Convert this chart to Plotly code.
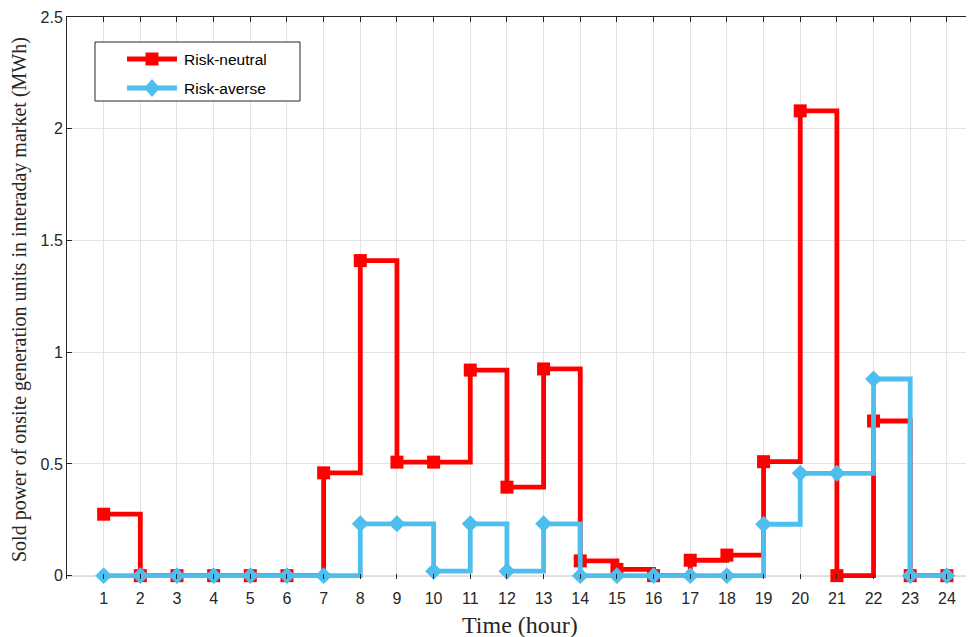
import plotly.graph_objects as go

hours = list(range(1, 25))
risk_neutral = [0.275, 0, 0, 0, 0, 0, 0.46, 1.41, 0.508, 0.508, 0.92, 0.396, 0.925, 0.066,
                0.028, 0, 0.069, 0.092, 0.51, 2.08, 0, 0.692, 0, 0]
risk_averse = [0, 0, 0, 0, 0, 0, 0, 0.232, 0.232, 0.02, 0.232, 0.02, 0.232, 0,
               0, 0, 0, 0, 0.23, 0.458, 0.458, 0.88, 0, 0]
y_ticks = [0, 0.5, 1, 1.5, 2, 2.5]
y_tick_labels = ["0", "0.5", "1", "1.5", "2", "2.5"]
series_names = ["Risk-neutral", "Risk-averse"]

RED = "#FF0000"
BLUE = "#4DBEEE"
AX = "#262626"
GRID = "#E3E3E3"
SANS = "Liberation Sans, Arial, sans-serif"
SERIF = "Liberation Serif, Times New Roman, serif"
LW = 4.8

# page geometry (pixels in the browser window); page body has an 8px margin
OFF = 8
W, H = 974, 637
L, T = 67, 17          # plot area left / top on the page
PLOT_BOTTOM = 579      # plot area bottom on the page
B = H - PLOT_BOTTOM

fig = go.Figure()
fig.add_trace(go.Scatter(
    x=hours, y=risk_neutral, name=series_names[0], mode="lines+markers",
    line=dict(color=RED, width=LW, shape="hv"),
    marker=dict(symbol="square", size=13, color=RED),
    cliponaxis=False, showlegend=False))
fig.add_trace(go.Scatter(
    x=hours, y=risk_averse, name=series_names[1], mode="lines+markers",
    line=dict(color=BLUE, width=LW, shape="hv"),
    marker=dict(symbol="diamond", size=13, color=BLUE),
    cliponaxis=False, showlegend=False))
# invisible traces to activate the top axis and the pixel overlay axis
fig.add_trace(go.Scatter(x=[0], y=[0], xaxis="x2", mode="markers",
                         marker=dict(opacity=0), showlegend=False, hoverinfo="skip"))
fig.add_trace(go.Scatter(x=[L], y=[T], xaxis="x3", yaxis="y3", mode="markers",
                         marker=dict(opacity=0), showlegend=False, hoverinfo="skip"))

# zero axis line
fig.add_shape(type="line", xref="paper", yref="y", x0=0, x1=1, y0=0, y1=0,
              line=dict(color=AX, width=1), layer="below")

# ---- custom legend, drawn on an overlay axis in page-pixel units ----
leg_x0, leg_x1, leg_y0, leg_y1 = 95, 300, 42, 101
fig.add_shape(type="rect", xref="x3", yref="y3", x0=leg_x0, x1=leg_x1, y0=leg_y0, y1=leg_y1,
              line=dict(color=AX, width=1), fillcolor="white", layer="above")
entry_rows = [59, 88]
entry_colors = [RED, BLUE]
entry_symbols = ["square", "diamond"]
cx = 152
for row, col, sym, name in zip(entry_rows, entry_colors, entry_symbols, series_names):
    fig.add_shape(type="line", xref="x3", yref="y3", x0=127, x1=177, y0=row, y1=row,
                  line=dict(color=col, width=LW), layer="above")
    if sym == "square":
        fig.add_shape(type="rect", xref="x3", yref="y3", x0=cx - 6.5, x1=cx + 6.5,
                      y0=row - 6.5, y1=row + 6.5, fillcolor=col, line=dict(width=0),
                      layer="above")
    else:
        fig.add_shape(type="path", xref="x3", yref="y3",
                      path=f"M{cx},{row - 9} L{cx + 8},{row} L{cx},{row + 9} L{cx - 8},{row} Z",
                      fillcolor=col, line=dict(width=0), layer="above")
    fig.add_annotation(xref="x3", yref="y3", x=182, y=row, text=name, showarrow=False,
                       xanchor="left", yanchor="middle",
                       font=dict(family=SANS, size=15.5, color="black"))

# axis titles
fig.add_annotation(xref="paper", yref="paper", x=(520 - L) / (W - L),
                   y=(PLOT_BOTTOM - 625) / (PLOT_BOTTOM - T),
                   text="Time (hour)", showarrow=False, xanchor="center", yanchor="middle",
                   font=dict(family=SERIF, size=24, color=AX))
fig.add_annotation(xref="paper", yref="paper", x=(19 - L) / (W - L),
                   y=(PLOT_BOTTOM - 300) / (PLOT_BOTTOM - T), textangle=-90,
                   text="Sold power of onsite generation units in interaday market (MWh)",
                   showarrow=False, xanchor="center", yanchor="middle",
                   font=dict(family=SERIF, size=20, color=AX))

fig.update_layout(
    width=W - OFF, height=H - OFF,
    margin=dict(l=L - OFF, r=0, t=T - OFF, b=B, autoexpand=False),
    paper_bgcolor="white", plot_bgcolor="white",
    font=dict(family=SANS, color=AX),
    showlegend=False,
    xaxis=dict(range=[0, 24.74], tickvals=hours, ticks="inside", ticklen=5,
               tickcolor=AX, showline=False, showgrid=True, gridcolor=GRID,
               zeroline=False, automargin=False, ticklabelstandoff=8,
               tickfont=dict(family=SANS, size=16, color=AX)),
    xaxis2=dict(range=[0, 24.74], overlaying="x", side="top", tickvals=hours,
                ticks="inside", ticklen=5, tickcolor=AX, showline=True, linecolor=AX,
                linewidth=1, showticklabels=False, showgrid=False, zeroline=False,
                automargin=False),
    yaxis=dict(range=[-0.015, 2.5], tickvals=y_ticks, ticktext=y_tick_labels,
               ticks="inside", ticklen=5, tickcolor=AX, showline=True, linecolor=AX,
               linewidth=1, showgrid=True, gridcolor=GRID, zeroline=False, automargin=False,
               tickfont=dict(family=SANS, size=16, color=AX)),
    xaxis3=dict(range=[L, W], overlaying="x", visible=False, fixedrange=True),
    yaxis3=dict(range=[PLOT_BOTTOM, T], overlaying="y", visible=False, fixedrange=True),
)

fig.write_html("out.html")
